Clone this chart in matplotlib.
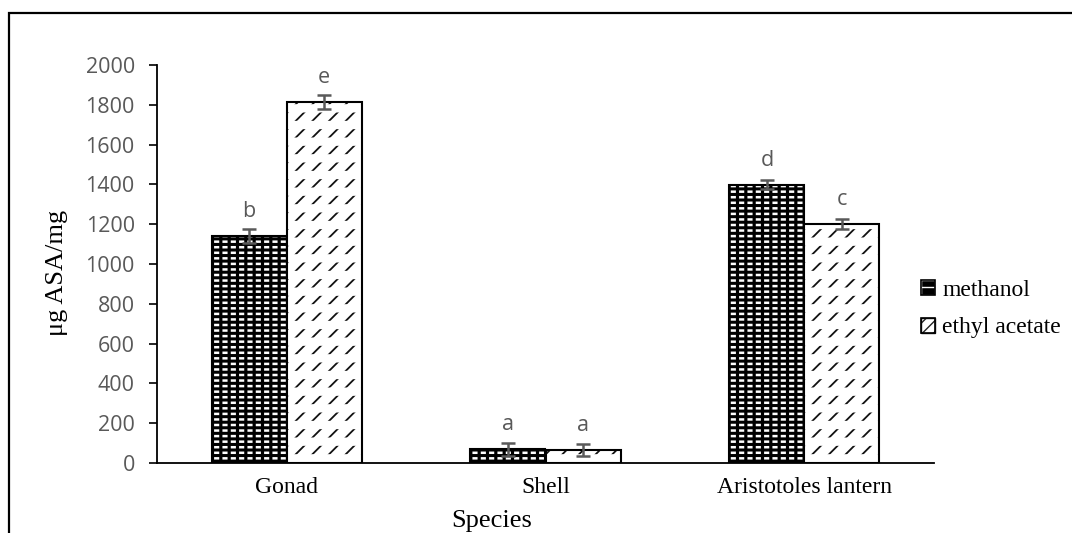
import numpy as np
import matplotlib as mpl
import matplotlib.pyplot as plt
from matplotlib.patches import Rectangle, Patch

# data
categories = ["Gonad", "Shell", "Aristotoles lantern"]
methanol = [1142, 70, 1399]
methanol_err = [35, 33, 22]
ethyl = [1814, 65, 1201]
ethyl_err = [36, 30, 25]
letters_meth = ["b", "a", "d"]
letters_eth = ["e", "a", "c"]
series_names = ["methanol", "ethyl acetate"]

GREY = "#595959"
SANS = ["Open Sans", "DejaVu Sans"]
SERIF = ["Liberation Serif", "DejaVu Serif"]

fig = plt.figure(figsize=(10.72, 5.33), dpi=100)
ax = fig.add_axes([157 / 1072, 1 - 463 / 533, 777 / 1072, 398 / 533])

# outer frame (only top/left visible)
fig.patches.append(Rectangle((9 / 1072, -0.1), 1.2, 1 - 13 / 533 + 0.1,
                             transform=fig.transFigure, fill=False,
                             edgecolor="black", linewidth=1.6))

x = np.arange(len(categories))
w = 150 / 259 / 2


def layer(kind, **kw):
    # hatch linewidth is read when the patch is made
    lw = kw.pop("hlw", 1.0)
    with mpl.rc_context({"hatch.linewidth": lw}):
        if kind == "bar":
            return ax.bar(**kw)
        return Patch(**kw)


# methanol: black with white brick dashes
layer("bar", x=x - w / 2, height=methanol, width=w, color="black",
      edgecolor="white", hatch="---", linewidth=0, hlw=1.8)
layer("bar", x=x - w / 2, height=methanol, width=w, fill=False,
      edgecolor="black", hatch="||", linewidth=0, hlw=2.3)
ax.bar(x - w / 2, methanol, w, fill=False, edgecolor="black", linewidth=1.5)

# ethyl acetate: white with dark diagonal dashes in rows
layer("bar", x=x + w / 2, height=ethyl, width=w, color="white",
      edgecolor="#111111", hatch="//", linewidth=0, hlw=1.3)
layer("bar", x=x + w / 2, height=ethyl, width=w, fill=False,
      edgecolor="white", hatch="-", linewidth=0, hlw=6)
ax.bar(x + w / 2, ethyl, w, fill=False, edgecolor="black", linewidth=1.5)

ax.errorbar(x - w / 2, methanol, yerr=methanol_err, fmt="none", ecolor=GREY,
            elinewidth=1.8, capsize=5, capthick=1.8)
ax.errorbar(x + w / 2, ethyl, yerr=ethyl_err, fmt="none", ecolor=GREY,
            elinewidth=1.8, capsize=5, capthick=1.8)

for xi, v, t in zip(x - w / 2, methanol, letters_meth):
    ax.annotate(t, (xi, v), xytext=(0, 17.5), textcoords="offset points",
                ha="center", va="center", color=GREY, fontsize=15.5, family=SANS)
for xi, v, t in zip(x + w / 2, ethyl, letters_eth):
    ax.annotate(t, (xi, v), xytext=(0, 17.5), textcoords="offset points",
                ha="center", va="center", color=GREY, fontsize=15.5, family=SANS)

ax.set_xlim(-0.5, 2.5)
ax.set_ylim(0, 2000)
ax.set_yticks(np.arange(0, 2001, 200))
ax.set_xticks(x)
ax.set_xticklabels(categories, family=SERIF, fontsize=17)
for lab in ax.get_yticklabels():
    lab.set_family(SANS)
    lab.set_fontsize(15.5)
    lab.set_color(GREY)

ax.tick_params(axis="x", length=0, pad=10)
ax.tick_params(axis="y", length=6, width=1.2, direction="out", pad=10)
for s in ["top", "right"]:
    ax.spines[s].set_visible(False)
ax.spines["left"].set_linewidth(1.3)
ax.spines["bottom"].set_linewidth(1.3)

fig.text(57 / 1072, 1 - 273 / 533, "μg ASA/mg", rotation=90, ha="center", va="center",
         family=SERIF, fontsize=19)
fig.text(492 / 1072, 1 - 521 / 533, "Species", ha="center", va="center",
         family=SERIF, fontsize=19)

h_meth = (layer("patch", facecolor="black", edgecolor="white", hatch="--", hlw=1.8),
          Patch(facecolor="none", edgecolor="black", linewidth=1.2))
h_eth = (layer("patch", facecolor="white", edgecolor="#222222", hatch="///", hlw=1.3),
         Patch(facecolor="none", edgecolor="black", linewidth=1.2))
leg = fig.legend([h_meth, h_eth], series_names, loc="center left",
                 bbox_to_anchor=(921 / 1072, 1 - 309 / 533), frameon=False,
                 borderpad=0, borderaxespad=0,
                 prop={"family": SERIF, "size": 17}, handlelength=0.6,
                 handleheight=0.6, handletextpad=0.3, labelspacing=0.72)

fig.savefig("out.png", dpi=100)
